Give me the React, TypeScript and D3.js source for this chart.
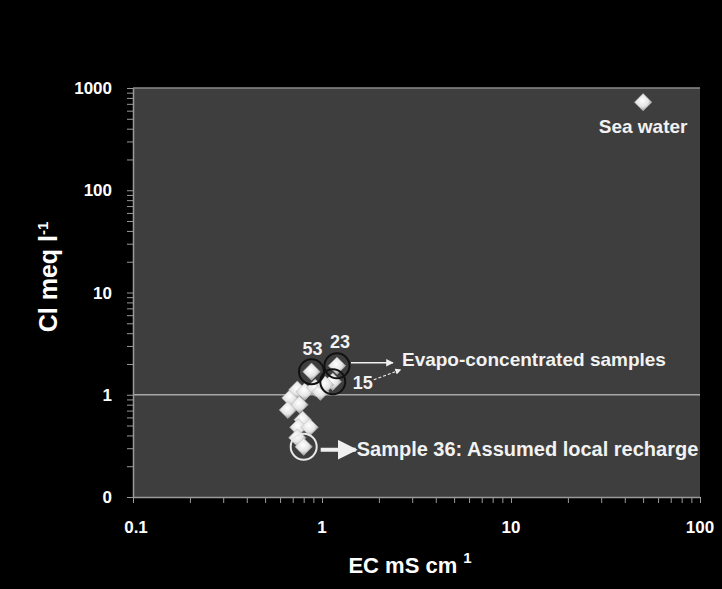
import React, { useRef, useEffect } from 'react'
import * as d3 from 'd3'

// samples (EC mS/cm, Cl meq/l)
const ecValues = [0.88, 1.2, 1.14, 0.68, 0.74, 0.81, 0.92, 0.98, 0.66, 0.76, 1.04, 0.79, 0.75, 0.86, 0.74, 0.8]
const clValues = [1.68, 1.92, 1.34, 0.93, 1.12, 1.07, 1.17, 1.07, 0.71, 0.8, 1.25, 0.57, 0.48, 0.48, 0.38, 0.31]
const seaWater = { ec: 50, cl: 726 }

const xTicks = [0.1, 1, 10, 100]
const xTickLabels = ['0.1', '1', '10', '100']
const yTicks = [0.1, 1, 10, 100, 1000]
const yTickLabels = ['0', '1', '10', '100', '1000']

// annotated samples: index in arrays above
const circledBlack = [{ i: 0, label: '53' }, { i: 1, label: '23' }, { i: 2, label: '15' }]
const circledWhite = 15

const App = () => {
  const svgRef = useRef<SVGSVGElement>(null)

  const width = 722
  const height = 589
  const margin = { top: 88, right: 22, bottom: 92, left: 133 }

  useEffect(() => {
    const svg = d3.select(svgRef.current)
    svg.selectAll('*').remove()

    const x = d3.scaleLog().domain([0.1, 100]).range([margin.left, width - margin.right])
    const y = d3.scaleLog().domain([0.1, 1000]).range([height - margin.bottom, margin.top])
    const font = 'Arial, "Liberation Sans", sans-serif'

    svg.append('rect').attr('width', width).attr('height', height).attr('fill', '#000')

    const defs = svg.append('defs')
    const grad = defs.append('radialGradient').attr('id', 'dia').attr('cx', '45%').attr('cy', '40%').attr('r', '65%')
    grad.append('stop').attr('offset', '0%').attr('stop-color', '#ffffff')
    grad.append('stop').attr('offset', '55%').attr('stop-color', '#e4e4e4')
    grad.append('stop').attr('offset', '100%').attr('stop-color', '#8a8a8a')
    defs.append('marker').attr('id', 'arr').attr('viewBox', '0 0 10 10').attr('refX', 9).attr('refY', 5)
      .attr('markerWidth', 5).attr('markerHeight', 5).attr('orient', 'auto')
      .append('path').attr('d', 'M0,0L10,5L0,10Z').attr('fill', '#f0f0f0')

    // plot area
    svg.append('rect')
      .attr('x', margin.left).attr('y', margin.top)
      .attr('width', width - margin.left - margin.right)
      .attr('height', height - margin.top - margin.bottom)
      .attr('fill', '#3e3e3e')
    svg.append('line')
      .attr('x1', margin.left).attr('x2', width - margin.right)
      .attr('y1', margin.top).attr('y2', margin.top)
      .attr('stroke', '#8a8a8a').attr('stroke-width', 1.5)

    // gridline at 1
    svg.append('line')
      .attr('x1', margin.left).attr('x2', width - margin.right)
      .attr('y1', y(1)).attr('y2', y(1))
      .attr('stroke', '#a8a8a8').attr('stroke-width', 1.5)

    // axes
    const xAxis = svg.append('g')
      .attr('transform', `translate(0,${height - margin.bottom})`)
      .call(d3.axisBottom(x).ticks(10, '').tickSize(6).tickSizeOuter(0))
    xAxis.selectAll('text').remove()
    const yAxis = svg.append('g')
      .attr('transform', `translate(${margin.left},0)`)
      .call(d3.axisLeft(y).ticks(10, '').tickSize(6).tickSizeOuter(0))
    yAxis.selectAll('text').remove()
    svg.selectAll('.domain').attr('stroke', '#9a9a9a').attr('stroke-width', 1.5)
    svg.selectAll('.tick line').attr('stroke', '#9a9a9a')

    svg.append('g').selectAll('text').data(xTicks).join('text')
      .attr('x', (d, i) => x(d) + (i === 0 ? 3 : 0))
      .attr('y', height - margin.bottom + 36)
      .attr('text-anchor', 'middle').attr('fill', '#fff')
      .attr('font-family', font).attr('font-size', 17).attr('font-weight', 'bold')
      .text((d, i) => xTickLabels[i])
    svg.append('g').selectAll('text').data(yTicks).join('text')
      .attr('x', margin.left - 21).attr('y', d => y(d) + 6)
      .attr('text-anchor', 'end').attr('fill', '#fff')
      .attr('font-family', font).attr('font-size', 17).attr('font-weight', 'bold')
      .text((d, i) => yTickLabels[i])

    // axis titles
    const xt = svg.append('text')
      .attr('x', 410).attr('y', 573).attr('text-anchor', 'middle').attr('fill', '#fff')
      .attr('font-family', font).attr('font-size', 22).attr('font-weight', 'bold')
    xt.append('tspan').text('EC mS cm')
    xt.append('tspan').attr('dx', 6).attr('dy', -10).attr('font-size', 15).text('1')

    const yt = svg.append('text')
      .attr('transform', `translate(57,277) rotate(-90)`)
      .attr('text-anchor', 'middle').attr('fill', '#fff')
      .attr('font-family', font).attr('font-size', 25).attr('font-weight', 'bold')
    yt.append('tspan').text('Cl meq l')
    yt.append('tspan').attr('dy', -9).attr('font-size', 15).text('-1')

    // points
    const diamond = d3.symbol().type(d3.symbolDiamond2).size(190)
    const pts = ecValues.map((ec, i) => ({ ec, cl: clValues[i] }))
    svg.append('g').selectAll('path').data([...pts, seaWater]).join('path')
      .attr('transform', d => `translate(${x(d.ec)},${y(d.cl)})`)
      .attr('d', diamond)
      .attr('fill', 'url(#dia)')
      .attr('stroke', '#bdbdbd').attr('stroke-width', 0.6)

    // annotation circles
    svg.append('g').selectAll('circle').data(circledBlack).join('circle')
      .attr('cx', d => x(ecValues[d.i])).attr('cy', d => y(clValues[d.i]))
      .attr('r', 12.5).attr('fill', 'none').attr('stroke', '#111').attr('stroke-width', 2)
    svg.append('circle')
      .attr('cx', x(ecValues[circledWhite])).attr('cy', y(clValues[circledWhite]))
      .attr('r', 13).attr('fill', 'none').attr('stroke', '#e8e8e8').attr('stroke-width', 2)

    const lab = (tx: number, ty: number, t: string, size = 19, anchor = 'start') =>
      svg.append('text').attr('x', tx).attr('y', ty).attr('fill', '#f2f2f2').attr('text-anchor', anchor)
        .attr('font-family', font).attr('font-size', size).attr('font-weight', 'bold').text(t)

    const p53 = [x(ecValues[0]), y(clValues[0])]
    const p23 = [x(ecValues[1]), y(clValues[1])]
    const p15 = [x(ecValues[2]), y(clValues[2])]
    const p36 = [x(ecValues[circledWhite]), y(clValues[circledWhite])]
    lab(p53[0] + 1, p53[1] - 17, circledBlack[0].label, 18, 'middle')
    lab(p23[0] + 3, p23[1] - 18, circledBlack[1].label, 18, 'middle')
    lab(p15[0] + 20, p15[1] + 7, circledBlack[2].label, 18)

    // arrows
    svg.append('line').attr('x1', p23[0] + 14).attr('y1', p23[1] - 3).attr('x2', p23[0] + 56).attr('y2', p23[1] - 3)
      .attr('stroke', '#f0f0f0').attr('stroke-width', 1.5).attr('marker-end', 'url(#arr)')
    svg.append('line').attr('x1', p15[0] + 41).attr('y1', p15[1] - 2).attr('x2', p15[0] + 68).attr('y2', p15[1] - 12)
      .attr('stroke', '#f0f0f0').attr('stroke-width', 1.2).attr('stroke-dasharray', '3,2').attr('marker-end', 'url(#arr)')
    lab(p23[0] + 65, p23[1] + 0, 'Evapo-concentrated samples')

    svg.append('line').attr('x1', p36[0] + 17).attr('y1', p36[1] + 3).attr('x2', p36[0] + 52).attr('y2', p36[1] + 3)
      .attr('stroke', '#f0f0f0').attr('stroke-width', 4).attr('marker-end', 'url(#arr)')
    lab(p36[0] + 53, p36[1] + 9, 'Sample 36: Assumed local recharge', 20)

    lab(x(seaWater.ec), y(seaWater.cl) + 31, 'Sea water', 19, 'middle')
  }, [])

  return (
    <svg ref={svgRef} width={width} height={height} style={{ display: 'block', position: 'absolute', left: 0, top: 0 }} />
  )
}

export default App
